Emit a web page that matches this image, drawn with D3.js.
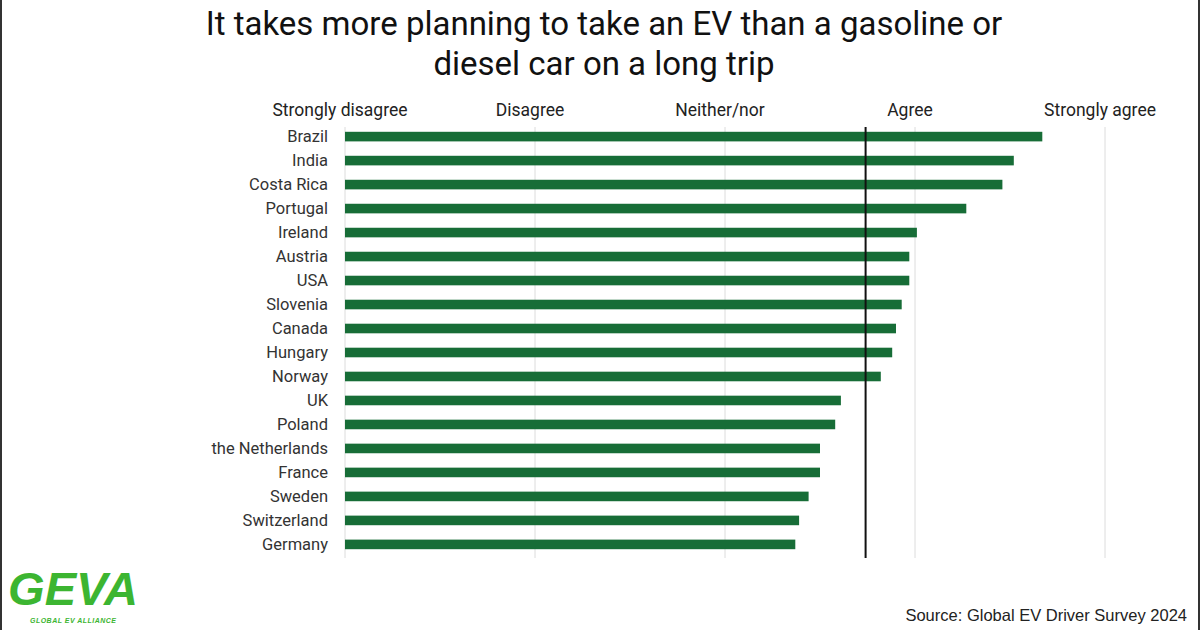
<!DOCTYPE html>
<html>
<head>
<meta charset="utf-8">
<script src="https://cdn.jsdelivr.net/npm/d3@7"></script>
<style>
  body { margin: 0; background: #fff; }
  svg { display: block; }
</style>
</head>
<body>
<div class="chart"></div>
<script>

// Survey data (1 = strongly disagree ... 5 = strongly agree)
var countries = ["Brazil", "India", "Costa Rica", "Portugal", "Ireland", "Austria", "USA",
  "Slovenia", "Canada", "Hungary", "Norway", "UK", "Poland", "the Netherlands",
  "France", "Sweden", "Switzerland", "Germany"];
var scores = [4.67, 4.52, 4.46, 4.27, 4.01, 3.97, 3.97,
  3.93, 3.90, 3.88, 3.82, 3.61, 3.58, 3.50,
  3.50, 3.44, 3.39, 3.37];
var tickValues = [1, 2, 3, 4, 5];
var tickLabels = ["Strongly disagree", "Disagree", "Neither/nor", "Agree", "Strongly agree"];
var average = 3.74;

var width = 1200, height = 630;
var margin = { top: 127, right: 95, bottom: 72, left: 345 };
var barColor = "#176d37";

var svg = d3.select(".chart")
  .append("svg")
    .attr("width", width)
    .attr("height", height);

// Scales
var x = d3.scaleLinear()
  .domain([1, 5])
  .range([margin.left, width - margin.right]);

var y = d3.scaleBand()
  .domain(countries)
  .range([margin.top, 554])
  .paddingInner(0.6)
  .paddingOuter(0.2);

// Title
svg.append("text")
  .attr("text-anchor", "middle")
  .style("font-family", "Roboto")
  .style("font-size", "33px")
  .style("fill", "#111")
  .selectAll("tspan")
  .data(["It takes more planning to take an EV than a gasoline or", "diesel car on a long trip"])
  .enter()
  .append("tspan")
    .attr("x", 604)
    .attr("y", function(d, i) { return 35 + i * 40; })
    .text(function(d) { return d; });

// Gridlines
svg.append("g")
  .selectAll("line")
  .data(tickValues)
  .enter()
  .append("line")
    .attr("x1", function(d) { return x(d); })
    .attr("x2", function(d) { return x(d); })
    .attr("y1", margin.top)
    .attr("y2", height - margin.bottom)
    .style("stroke", "#dcdcdc")
    .style("stroke-width", 1);

// Scale labels on top
svg.append("g")
  .selectAll("text")
  .data(tickValues)
  .enter()
  .append("text")
    .attr("x", function(d) { return x(d) - 5; })
    .attr("y", 116)
    .attr("text-anchor", "middle")
    .style("font-family", "Roboto")
    .style("font-size", "17.5px")
    .style("fill", "#222")
    .text(function(d, i) { return tickLabels[i]; });

// Bars
svg.append("g")
  .selectAll("rect")
  .data(countries)
  .enter()
  .append("rect")
    .attr("x", x(1))
    .attr("y", function(d) { return y(d); })
    .attr("width", function(d, i) { return x(scores[i]) - x(1); })
    .attr("height", y.bandwidth())
    .style("fill", barColor);

// Country labels
var yAxis = d3.axisLeft(y).tickSize(0).tickPadding(17);
svg.append("g")
  .attr("class", "y axis")
  .attr("transform", "translate(" + margin.left + ",0)")
  .call(yAxis)
  .call(function(g) { g.select(".domain").remove(); })
  .selectAll("text")
    .style("font-family", "Roboto")
    .style("font-size", "16.5px")
    .style("fill", "#333");

// Average line
svg.append("line")
  .attr("x1", x(average))
  .attr("x2", x(average))
  .attr("y1", margin.top)
  .attr("y2", height - margin.bottom)
  .style("stroke", "#111")
  .style("stroke-width", 2);

// Source note
svg.append("text")
  .attr("x", 1187)
  .attr("y", 621)
  .attr("text-anchor", "end")
  .style("font-family", "Liberation Sans")
  .style("font-size", "16.5px")
  .style("fill", "#222")
  .text("Source: Global EV Driver Survey 2024");

// Logo
var logo = svg.append("g").attr("transform", "translate(8,605)");
logo.append("text")
  .style("font-family", "Liberation Sans")
  .style("font-weight", "bold")
  .style("font-style", "italic")
  .style("font-size", "46px")
  .style("fill", "#3cb531")
  .attr("textLength", 130)
  .attr("lengthAdjust", "spacingAndGlyphs")
  .text("GEVA");
logo.append("text")
  .attr("x", 22)
  .attr("y", 18)
  .style("font-family", "Liberation Sans")
  .style("font-weight", "bold")
  .style("font-style", "italic")
  .style("font-size", "7px")
  .style("fill", "#3cb531")
  .attr("textLength", 86)
  .text("GLOBAL EV ALLIANCE");

// Frame edges
svg.append("line").attr("x1", 1).attr("x2", 1).attr("y1", 0).attr("y2", height)
  .style("stroke", "#333").style("stroke-width", 2);
svg.append("line").attr("x1", width - 1).attr("x2", width - 1).attr("y1", 0).attr("y2", height)
  .style("stroke", "#333").style("stroke-width", 2);

</script>
</body>
</html>
